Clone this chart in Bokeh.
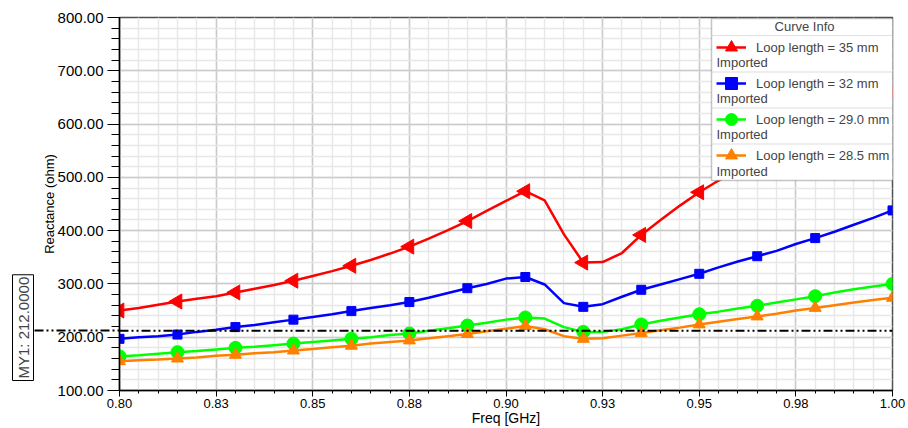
import numpy as np
from bokeh.plotting import figure
from bokeh.models import (Range1d, FixedTicker, NumeralTickFormatter, Label, BoxAnnotation,
                          Legend, LegendItem, Span, Title, LinearAxis)
from bokeh.embed import file_html
from bokeh.resources import INLINE

# ---------------- data ----------------
freq = [0.800, 0.805, 0.810, 0.815, 0.820, 0.825, 0.830, 0.835, 0.840, 0.845,
        0.850, 0.855, 0.860, 0.865, 0.870, 0.875, 0.880, 0.885, 0.890, 0.895,
        0.900, 0.905, 0.910, 0.915, 0.920, 0.925, 0.930, 0.935, 0.940, 0.945,
        0.950, 0.955, 0.960, 0.965, 0.970, 0.975, 0.980, 0.985, 0.990, 0.995,
        1.000]
x_35mm = [250, 255, 261, 267, 272, 277, 284, 291, 298, 306,
          315, 324, 334, 345, 357, 370, 385, 401, 418, 437,
          456, 474, 457, 393, 340, 341, 358, 392, 420, 447,
          472, 494, 515, 535, 556, 575, 595, 612, 628, 645,
          660]
x_32mm = [197, 200, 202, 205, 210, 214, 219, 223, 228, 233,
          238, 243, 249, 255, 260, 266, 274, 283, 292, 300,
          310, 313, 299, 264, 257, 262, 276, 289, 299, 309,
          319, 331, 342, 352, 362, 375, 386, 398, 411, 424,
          438]
x_29mm = [164, 166, 169, 172, 174, 177, 180, 182, 185, 188,
          191, 194, 197, 200, 204, 207, 212, 217, 222, 227,
          233, 237, 235, 219, 210, 210, 215, 224, 231, 237,
          243, 248, 254, 259, 265, 271, 277, 284, 290, 295,
          300]
x_285mm = [155, 157, 158, 160, 162, 165, 167, 170, 172, 175,
           178, 181, 184, 188, 191, 194, 198, 202, 206, 211,
           216, 221, 215, 202, 197, 198, 203, 208, 213, 218,
           224, 229, 234, 239, 244, 250, 255, 260, 265, 270,
           274]
series_labels = ["Loop length = 35 mm", "Loop length = 32 mm",
                 "Loop length = 29.0 mm", "Loop length = 28.5 mm"]
series_sub = "Imported"
legend_title = "Curve Info"
marker_index = [0, 3, 6, 9, 12, 15, 18, 21, 24, 27, 30, 33, 36, 40]
marker_y = 212.0
marker_text = "MY1: 212.0000"
x_ticks = [0.800, 0.825, 0.850, 0.875, 0.900, 0.925, 0.950, 0.975, 1.000]
x_tick_labels = ["0.80", "0.83", "0.85", "0.88", "0.90", "0.93", "0.95", "0.98", "1.00"]
y_ticks = [100, 200, 300, 400, 500, 600, 700, 800]
x_title = "Freq [GHz]"
y_title = "Reactance (ohm)"

# ---------------- styles ----------------
FONT = "Liberation Sans"
colors = ["#ff0000", "#0000ff", "#00ff00", "#ff8000"]
markers = ["triangle", "square", "circle", "triangle"]
msizes = [15, 9, 13, 12]
mangles = [np.pi / 2, 0, 0, 0]
DASH = "9 3 2 3 2 3"

p = figure(width=908, height=428, x_range=Range1d(0.8, 1.0), y_range=Range1d(100, 800),
           output_backend="svg", toolbar_location=None,
           min_border_left=119, min_border_right=16, min_border_top=17, min_border_bottom=38)
p.background_fill_color = "white"
p.border_fill_color = "white"
p.outline_line_color = "#505050"
p.outline_line_width = 1.5

# axes
x_minor = list(np.round(np.arange(0.8, 1.0001, 0.005), 4))
y_minor = list(np.arange(100, 801, 20))
p.xaxis.ticker = FixedTicker(ticks=x_ticks, minor_ticks=x_minor)
p.yaxis.ticker = FixedTicker(ticks=y_ticks, minor_ticks=y_minor)
p.xaxis.major_label_overrides = {t: s for t, s in zip(x_ticks, x_tick_labels)}
p.yaxis.formatter = NumeralTickFormatter(format="0.00")
for ax in (p.xaxis[0], p.yaxis[0]):
    ax.axis_line_color = "black"
    ax.axis_line_width = 1.5
    ax.major_tick_line_color = "black"
    ax.minor_tick_line_color = "black"
    ax.major_tick_in = 0
    ax.minor_tick_in = 0
    ax.major_label_text_font = FONT
    ax.major_label_text_color = "black"
    ax.axis_label_text_font = FONT
    ax.axis_label_text_font_style = "normal"
    ax.axis_label_text_color = "black"
p.yaxis.major_tick_out = 12
p.yaxis.minor_tick_out = 8
p.yaxis.major_label_standoff = 4
p.yaxis.major_label_text_font_size = "15px"
p.xaxis.major_tick_out = 6
p.xaxis.minor_tick_out = 3
p.xaxis.major_label_standoff = 2
p.xaxis.major_label_text_font_size = "13px"
p.yaxis.axis_label = y_title
p.yaxis.axis_label_text_font_size = "13px"
p.yaxis.axis_label_standoff = -2
p.xaxis.axis_label = x_title
p.xaxis.axis_label_text_font_size = "14px"
p.xaxis.axis_label_standoff = -1

# grid
for g in (p.xgrid[0], p.ygrid[0]):
    g.grid_line_color = "#cbcbcb"
    g.grid_line_width = 1.5
    g.minor_grid_line_color = "#e8e8e8"
    g.minor_grid_line_width = 1.5

# curves
series = [x_35mm, x_32mm, x_29mm, x_285mm]
items = []
for vals, col, mk, ms, ma, lab in zip(series, colors, markers, msizes, mangles, series_labels):
    lr = p.line(freq, vals, line_color=col, line_width=2.5)
    mx = [freq[i] for i in marker_index]
    my = [vals[i] for i in marker_index]
    sr = p.scatter(mx, my, marker=mk, size=ms, angle=ma, fill_color=col, line_color=col)
    items.append(LegendItem(label=lab, renderers=[lr, sr]))

# marker line MY1 (inside the frame)
p.add_layout(Span(location=marker_y, dimension="width", line_color="black", line_width=2,
                  line_dash=DASH, level="overlay"))
# its continuation over the left axis area: an extra axis carrying one dashed tick
dash_axis = LinearAxis(ticker=FixedTicker(ticks=[marker_y], minor_ticks=[]),
                       axis_line_alpha=0, major_tick_in=82, major_tick_out=4,
                       major_tick_line_color="black", major_tick_line_width=2,
                       major_tick_line_dash=DASH, major_label_text_font_size="0px",
                       major_label_standoff=0)
dash_axis.major_label_overrides = {marker_y: ""}
p.add_layout(dash_axis, "left")
# marker value box
p.add_layout(Title(text=marker_text, align="left", offset=10, standoff=2,
                   text_font=FONT, text_font_size="15px", text_font_style="normal",
                   border_line_color="black", border_line_width=1,
                   background_fill_color="white", padding=2), "left")

# legend box
p.add_layout(BoxAnnotation(left=592, right=781, top=372, bottom=210, left_units="screen",
                           right_units="screen", top_units="screen", bottom_units="screen",
                           fill_color="white", fill_alpha=1, line_color="#404040", line_width=1.5))
for yy in (355, 318.5, 282.5, 246.5):
    p.add_layout(BoxAnnotation(left=592, right=781, top=yy, bottom=yy, left_units="screen",
                               right_units="screen", top_units="screen", bottom_units="screen",
                               fill_alpha=0, line_color="#c4c4c4", line_width=1))
p.add_layout(Label(x=685, y=364, x_units="screen", y_units="screen", text=legend_title,
                   text_align="center", text_baseline="middle", text_font=FONT,
                   text_font_size="13px"))
for yy in (328.3, 292.3, 256, 219.5):
    p.add_layout(Label(x=597, y=yy, x_units="screen", y_units="screen", text=series_sub,
                       text_align="left", text_baseline="middle", text_font=FONT,
                       text_font_size="13px"))
legend = Legend(items=items, location=(597, 219), border_line_alpha=0, background_fill_alpha=0,
                padding=0, margin=0, spacing=4, glyph_width=30, glyph_height=32, label_height=32,
                label_standoff=10, label_text_font=FONT, label_text_font_size="13px")
p.add_layout(legend)

open("out.html", "w").write(file_html(p, INLINE))
